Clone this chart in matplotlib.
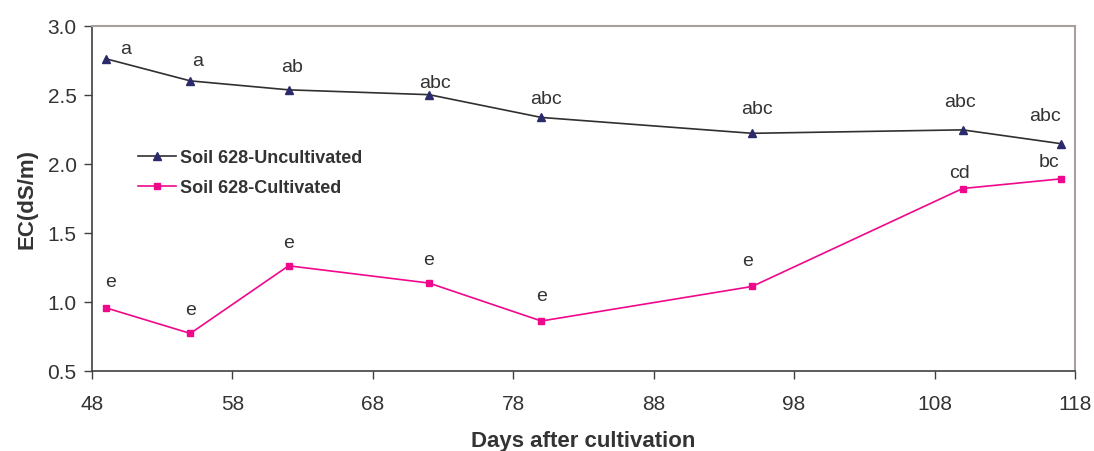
import matplotlib.pyplot as plt

plt.rcParams['font.family'] = ['Liberation Sans', 'DejaVu Sans']

# Data
days_uncult = [49, 55, 62, 72, 80, 95, 110, 117]
ec_uncult = [2.76, 2.60, 2.535, 2.50, 2.335, 2.22, 2.245, 2.145]
letters_uncult = ['a', 'a', 'ab', 'abc', 'abc', 'abc', 'abc', 'abc']

days_cult = [49, 55, 62, 72, 80, 95, 110, 117]
ec_cult = [0.955, 0.77, 1.26, 1.135, 0.86, 1.11, 1.82, 1.89]
letters_cult = ['e', 'e', 'e', 'e', 'e', 'e', 'cd', 'bc']

x_ticks = [48, 58, 68, 78, 88, 98, 108, 118]
y_ticks = [0.5, 1.0, 1.5, 2.0, 2.5, 3.0]

# pixel offsets of the letter labels from their points
offs_uncult = [(20, 10), (7, 20), (3, 23), (6, 12), (5, 19), (5, 25), (-3, 28), (-16, 28)]
offs_cult = [(5, 26), (0, 24), (0, 23), (0, 24), (0, 25), (-4, 26), (-3, 16), (-12, 17)]

fig = plt.figure(figsize=(10.94, 4.52), dpi=100)
ax = fig.add_axes([0.0841, 0.1777, 0.8985, 0.7633])

ax.plot(days_uncult, ec_uncult, color='#303030', lw=1.2, marker='^', ms=6,
        mfc='#2b2b6b', mec='#2b2b6b', label='Soil 628-Uncultivated')
ax.plot(days_cult, ec_cult, color='#f0088c', lw=1.2, marker='s', ms=5,
        mfc='#f0088c', mec='#f0088c', label='Soil 628-Cultivated')

for x, y, t, o in zip(days_uncult, ec_uncult, letters_uncult, offs_uncult):
    ax.annotate(t, (x, y), xytext=o, textcoords='offset pixels',
                ha='center', va='center', fontsize=14, color='#333333')
for x, y, t, o in zip(days_cult, ec_cult, letters_cult, offs_cult):
    ax.annotate(t, (x, y), xytext=o, textcoords='offset pixels',
                ha='center', va='center', fontsize=14, color='#333333')

ax.set_xlim(48, 118)
ax.set_ylim(0.5, 3.0)
ax.set_xticks(x_ticks)
ax.set_yticks(y_ticks)
ax.set_yticklabels([f'{v:.1f}' for v in y_ticks])
ax.tick_params(axis='both', direction='out', length=6, width=1, colors='#404040',
               labelsize=15, labelcolor='#333333')
ax.tick_params(axis='x', pad=11)
ax.tick_params(axis='y', pad=5)

for s in ['left', 'bottom']:
    ax.spines[s].set_color('#404040')
    ax.spines[s].set_linewidth(1.2)
for s in ['top', 'right']:
    ax.spines[s].set_color('#a8a09c')
    ax.spines[s].set_linewidth(1.5)

ax.set_xlabel('Days after cultivation', fontsize=16, fontweight='bold', color='#333333', labelpad=12)
ax.set_ylabel('EC(dS/m)', fontsize=16, fontweight='bold', color='#333333', labelpad=7)

ax.legend(loc='upper left', bbox_to_anchor=(0.03, 0.69), frameon=False,
          prop={'weight': 'bold', 'size': 13}, handlelength=2.1,
          handletextpad=0.25, labelspacing=0.75, labelcolor='#333333')

fig.savefig('out.png', dpi=100)
